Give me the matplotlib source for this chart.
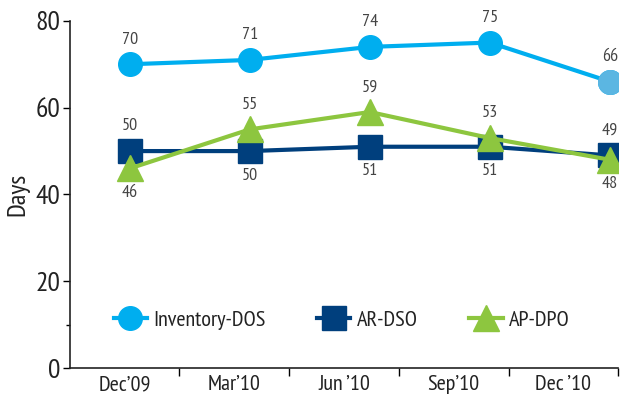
import matplotlib
matplotlib.use("Agg")
import matplotlib.pyplot as plt
import numpy as np
from matplotlib.ticker import FixedLocator

categories = ["Dec\u201909", "Mar\u201910", "Jun \u201910", "Sep\u201910", "Dec \u201910"]
inventory_dos = [70, 71, 74, 75, 66]
ar_dso = [50, 50, 51, 51, 49]
ap_dpo = [46, 55, 59, 53, 48]
# label placement: +1 above, -1 below
ar_pos = [1, -1, -1, -1, 1]
ap_pos = [-1, 1, 1, 1, -1]

plt.rcParams['font.family'] = ['PT Sans Narrow', 'DejaVu Sans']

c_inv = "#00AEEF"
c_inv_last = "#5BB6E2"
c_ar = "#003F7D"
c_ap = "#8DC63F"

fig = plt.figure(figsize=(6.4, 4.01), dpi=100)
ax = fig.add_axes([0.109, 0.082, 0.857, 0.866])

x = np.arange(len(categories))
ax.plot(x, inventory_dos, color=c_inv, lw=3, marker='o', ms=17, zorder=3, label="Inventory-DOS")
ax.plot(x[-1], inventory_dos[-1], 'o', color=c_inv_last, ms=17, zorder=4)
ax.plot(x, ar_dso, color=c_ar, lw=3, marker='s', ms=17, zorder=3, label="AR-DSO")
ax.plot(x, ap_dpo, color=c_ap, lw=3, marker='^', ms=19, zorder=4, label="AP-DPO")

tc = "#444444"
fs = 13
for xi, v in zip(x, inventory_dos):
    ax.annotate(str(v), (xi, v), xytext=(0, 12), textcoords='offset points', ha='center', va='bottom', fontsize=fs, color=tc)
for xi, v, p in zip(x, ar_dso, ar_pos):
    ax.annotate(str(v), (xi, v), xytext=(0, 12 * p), textcoords='offset points', ha='center',
                va='bottom' if p > 0 else 'top', fontsize=fs, color=tc)
for xi, v, p in zip(x, ap_dpo, ap_pos):
    ax.annotate(str(v), (xi, v), xytext=(0, 12 * p), textcoords='offset points', ha='center',
                va='bottom' if p > 0 else 'top', fontsize=fs, color=tc)

x0, x1 = -0.5, 4.07
ax.set_xlim(x0, x1)
ax.set_ylim(0, 80)
edges = np.linspace(x0, x1, len(categories) + 1)
ax.set_xticks(edges[1:])
ax.set_xticklabels([])
ax.xaxis.set_minor_locator(FixedLocator((edges[:-1] + edges[1:]) / 2))
ax.set_xticklabels(categories, minor=True, fontsize=16, color='#222222')
ax.tick_params(axis='x', which='minor', length=0, pad=5)
ax.tick_params(axis='x', which='major', length=6, width=1, direction='out')
ax.set_yticks([0, 20, 40, 60, 80])
ax.yaxis.set_minor_locator(FixedLocator([10]))
ax.tick_params(axis='y', which='major', labelsize=20, length=5, width=1, pad=2, labelcolor='#222222')
ax.tick_params(axis='y', which='minor', length=3, width=1)
ax.set_ylabel("Days", fontsize=19, labelpad=4, color='#222222')

for s in ['top', 'right']:
    ax.spines[s].set_visible(False)
for s in ['left', 'bottom']:
    ax.spines[s].set_color('#222222')
    ax.spines[s].set_linewidth(1.2)

leg = ax.legend(loc='center left', bbox_to_anchor=(0.08, 0.138), ncol=3, frameon=False, fontsize=16,
                handlelength=1.5, columnspacing=2.3, handletextpad=0.3, borderpad=0, borderaxespad=0)
for t in leg.get_texts():
    t.set_color('#222222')

fig.savefig("out.png", dpi=100)
